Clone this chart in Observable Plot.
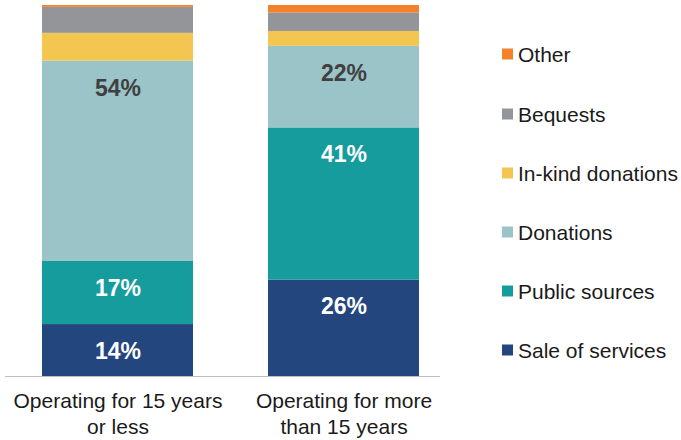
<!DOCTYPE html>
<html>
<head>
<meta charset="utf-8">
<script src="https://cdn.jsdelivr.net/npm/d3@7"></script>
<script src="https://cdn.jsdelivr.net/npm/@observablehq/plot@0.6"></script>
<style>
  html, body { margin: 0; padding: 0; background: #fff; }
  #wrap { position: relative; width: 681px; height: 440px; font-family: "Liberation Sans", Arial, sans-serif; }
  #legend { position: absolute; left: 502px; top: 0; }
  .item { position: absolute; left: 0; display: flex; align-items: center; white-space: nowrap; font-size: 21px; line-height: 1; color: #1a1a1a; transform: translateY(-50%); }
  .sw { width: 11px; height: 11px; margin-right: 5px; flex: none; }
</style>
</head>
<body>
<div id="wrap"><div id="chart"></div><div id="legend"></div></div>
<script>
const categories = ["Operating for 15 years or less", "Operating for more than 15 years"];
const tickLabels = ["Operating for 15 years\nor less", "Operating for more\nthan 15 years"];
const sources = ["Sale of services", "Public sources", "Donations", "In-kind donations", "Bequests", "Other"];
const colors = ["#24467e", "#169c9d", "#9ac4c8", "#f3c651", "#939598", "#f4822b"];
const saleOfServices = [14, 26];
const publicSources = [17, 41];
const donations = [54, 22];
const inKindDonations = [7.5, 4];
const bequests = [7, 5];
const other = [0.5, 2];
const whiteLabelled = ["Sale of services", "Public sources"];
const darkLabelled = ["Donations"];

const series = [saleOfServices, publicSources, donations, inKindDonations, bequests, other];
const rows = [];
categories.forEach((c, i) => {
  sources.forEach((s, j) => rows.push({category: c, source: s, value: series[j][i]}));
});

const stackOpts = (extra) => Plot.stackY2({x: "category", y: "value", z: "source", order: sources, ...extra});

const chart = Plot.plot({
  width: 681,
  height: 440,
  marginTop: 5,
  marginBottom: 64,
  marginLeft: 5,
  marginRight: 241,
  style: {fontFamily: '"Liberation Sans", Arial, sans-serif', background: "#fff"},
  x: {domain: categories, range: [42, 419], paddingInner: 0.332, paddingOuter: 0, label: null},
  y: {domain: [0, 100], axis: null},
  color: {domain: sources, range: colors},
  marks: [
    Plot.barY(rows, Plot.stackY({x: "category", y: "value", fill: "source", order: sources})),
    Plot.text(rows, stackOpts({text: d => whiteLabelled.includes(d.source) ? `${d.value}%` : null, fill: "white", fontSize: 23, fontWeight: "bold", dy: 27})),
    Plot.text(rows, stackOpts({text: d => darkLabelled.includes(d.source) ? `${d.value}%` : null, fill: "#404040", fontSize: 23, fontWeight: "bold", dy: 27})),
    Plot.ruleY([0], {stroke: "#bfbfbf", strokeWidth: 1.2}),
    Plot.axisX({tickSize: 0, tickPadding: 14, fontSize: 21, lineHeight: 1.2, fill: "#1a1a1a", tickFormat: d => tickLabels[categories.indexOf(d)], label: null})
  ]
});
document.getElementById("chart").appendChild(chart);

const legend = document.getElementById("legend");
const legendY = [350, 291, 232, 173, 114, 54];
sources.forEach((s, j) => {
  const it = document.createElement("div");
  it.className = "item";
  it.style.top = legendY[j] + "px";
  it.innerHTML = `<span class="sw" style="background:${colors[j]}"></span><span>${s}</span>`;
  legend.appendChild(it);
});
</script>
</body>
</html>
